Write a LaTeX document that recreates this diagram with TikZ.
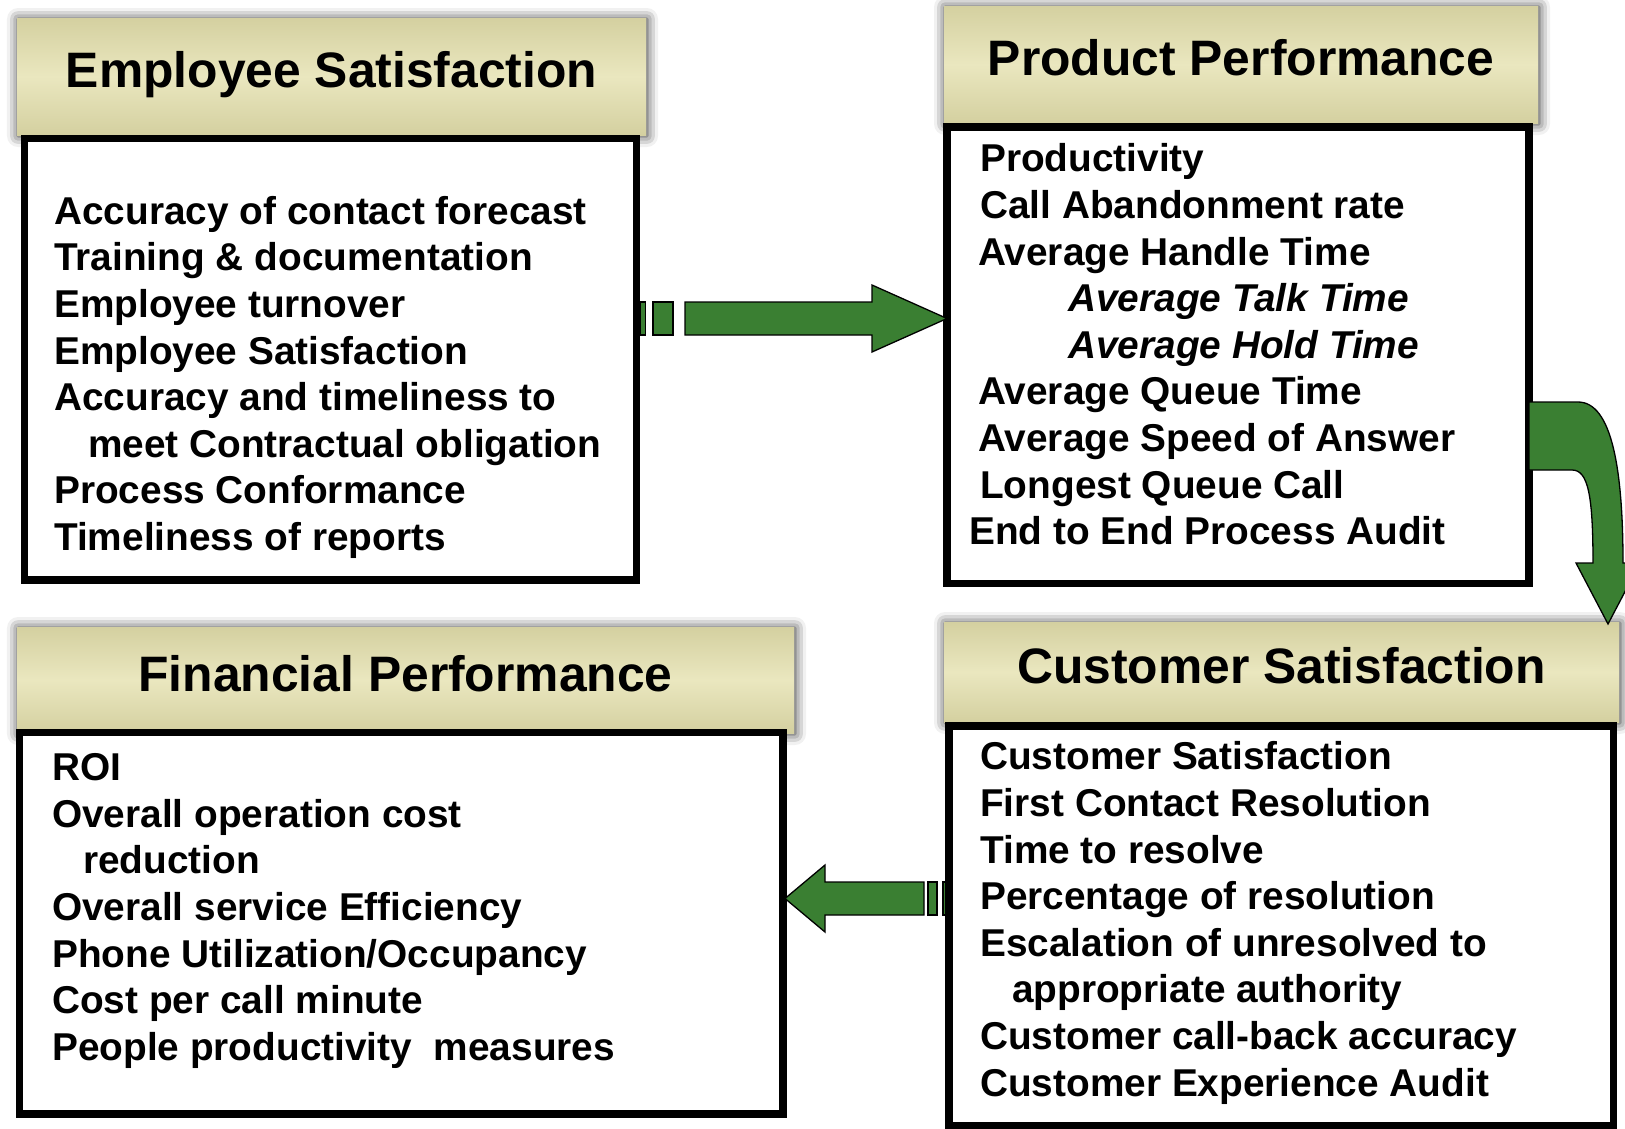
\documentclass[tikz,border=0pt]{standalone}
\usepackage{fontspec}
\setmainfont{Liberation Sans}
\usepackage{xcolor}
\definecolor{arrowgreen}{RGB}{58,127,50}
\definecolor{hdrdark}{RGB}{212,208,160}
\definecolor{hdrlight}{RGB}{234,231,191}
\usepackage{tikz}
\usetikzlibrary{calc}
\usetikzlibrary{shadows.blur}
\newcommand{\hdrfont}{\fontsize{49.8}{60}\selectfont\bfseries}
\newcommand{\itemfont}{\fontsize{38.8}{46.6}\selectfont\bfseries}
\tikzset{
    header/.style={anchor=north west, inner sep=0pt, outer sep=0pt,
        top color=hdrdark, bottom color=hdrdark, middle color=hdrlight,
        text height=36pt, text depth=14pt, font=\hdrfont,
        blur shadow={shadow xshift=1pt, shadow yshift=-1pt, shadow blur radius=11pt, shadow opacity=85}},
    panel/.style={anchor=north west, draw, fill=white, line width=7.5pt, inner sep=0pt, outer sep=0pt},
    items/.style={anchor=north west, inner sep=0pt, align=left, font=\itemfont},
    blockarrow/.style={draw, fill=arrowgreen, line width=1.3pt, line join=miter}
}

\begin{document}
\begin{tikzpicture}[x=1pt,y=-1pt]
    \useasboundingbox (0,0) rectangle (1625,1128);

    \node[header, minimum width=629pt, minimum height=117pt] (es-hdr) at (17,18) {Employee Satisfaction};
    \node[header, minimum width=594pt, minimum height=117pt] (pp-hdr) at (944,6) {Product Performance};
    \node[header, minimum width=675pt, minimum height=100pt] (cs-hdr) at (944,622) {Customer Satisfaction};
    \node[header, minimum width=777pt, minimum height=106pt] (fp-hdr) at (17,627) {Financial Performance};

    \node[panel, minimum width=612pt, minimum height=441.5pt] (es-body) at (24.5,138.5) {};
    \node[panel, minimum width=582pt, minimum height=456.5pt] (pp-body) at (947,127) {};
    \node[panel, minimum width=664.5pt, minimum height=400pt] (cs-body) at (949,726) {};
    \node[panel, minimum width=763.5pt, minimum height=381.5pt] (fp-body) at (19.5,732.5) {};

    \node[items] (es-items) at (54,196) {Accuracy of contact forecast\\
        Training \& documentation\\
        Employee turnover\\
        Employee Satisfaction\\
        Accuracy and timeliness to\\
        \hspace*{34pt}meet Contractual obligation\\
        Process Conformance\\
        Timeliness of reports};
    \node[items] (pp-items) at (980,143.5) {Productivity\\
        Call Abandonment rate\\
        \hspace*{-2pt}Average Handle Time\\
        \hspace*{88pt}\textit{Average Talk Time}\\
        \hspace*{88pt}\textit{Average Hold Time}\\
        \hspace*{-2pt}Average Queue Time\\
        \hspace*{-2pt}Average Speed of Answer\\
        Longest Queue Call\\
        \hspace*{-11pt}End to End Process Audit};
    \node[items] (cs-items) at (980,741.5) {Customer Satisfaction\\
        First Contact Resolution\\
        Time to resolve\\
        Percentage of resolution\\
        Escalation of unresolved to\\
        \hspace*{32pt}appropriate authority\\
        Customer call-back accuracy\\
        Customer Experience Audit};
    \node[items] (fp-items) at (52,753.4) {ROI\\
        Overall operation cost\\
        \hspace*{31pt}reduction\\
        Overall service Efficiency\\
        Phone Utilization/Occupancy\\
        Cost per call minute\\
        People productivity\ \ measures};

    \coordinate (es-out) at (es-body.east |- 0,318.5);
    \coordinate (pp-in) at (pp-body.west |- 0,318.5);
    \coordinate (pp-out) at (pp-body.east |- 0,436);
    \coordinate (cs-in) at ([shift={(326.5,2)}]cs-hdr.north);
    \coordinate (cs-out) at (cs-body.west |- 0,898.5);
    \coordinate (fp-in) at (fp-body.east |- 0,898.5);

    \draw[blockarrow] (es-out) ++(4,-16.5) rectangle ++(5,33);
    \draw[blockarrow] (es-out) ++(16.5,-16.5) rectangle ++(20,33);
    \draw[blockarrow] (pp-in) -- ++(-75,-33.5) -- ++(0,17) -- ++(-187,0) -- ++(0,33) -- ++(187,0) -- ++(0,17) -- cycle;

    \draw[blockarrow] (pp-out) ++(0,-34) -- (1578,402) .. controls (1612,402) and (1623,470) .. (1623,563)
        -- (1640,563) -- (cs-in) -- (1576,563) -- (1593,563) .. controls (1593,495) and (1588,470) .. (1572,470)
        -- ++(-43,0) -- cycle;

    \draw[blockarrow] (cs-out) ++(-6,-16.5) rectangle ++(3,33);
    \draw[blockarrow] (cs-out) ++(-21,-16.5) rectangle ++(9,33);
    \draw[blockarrow] (fp-in) ++(2,0) -- ++(40,-33.5) -- ++(0,17) -- ++(99,0) -- ++(0,33) -- ++(-99,0) -- ++(0,17) -- cycle;
\end{tikzpicture}
\end{document}
